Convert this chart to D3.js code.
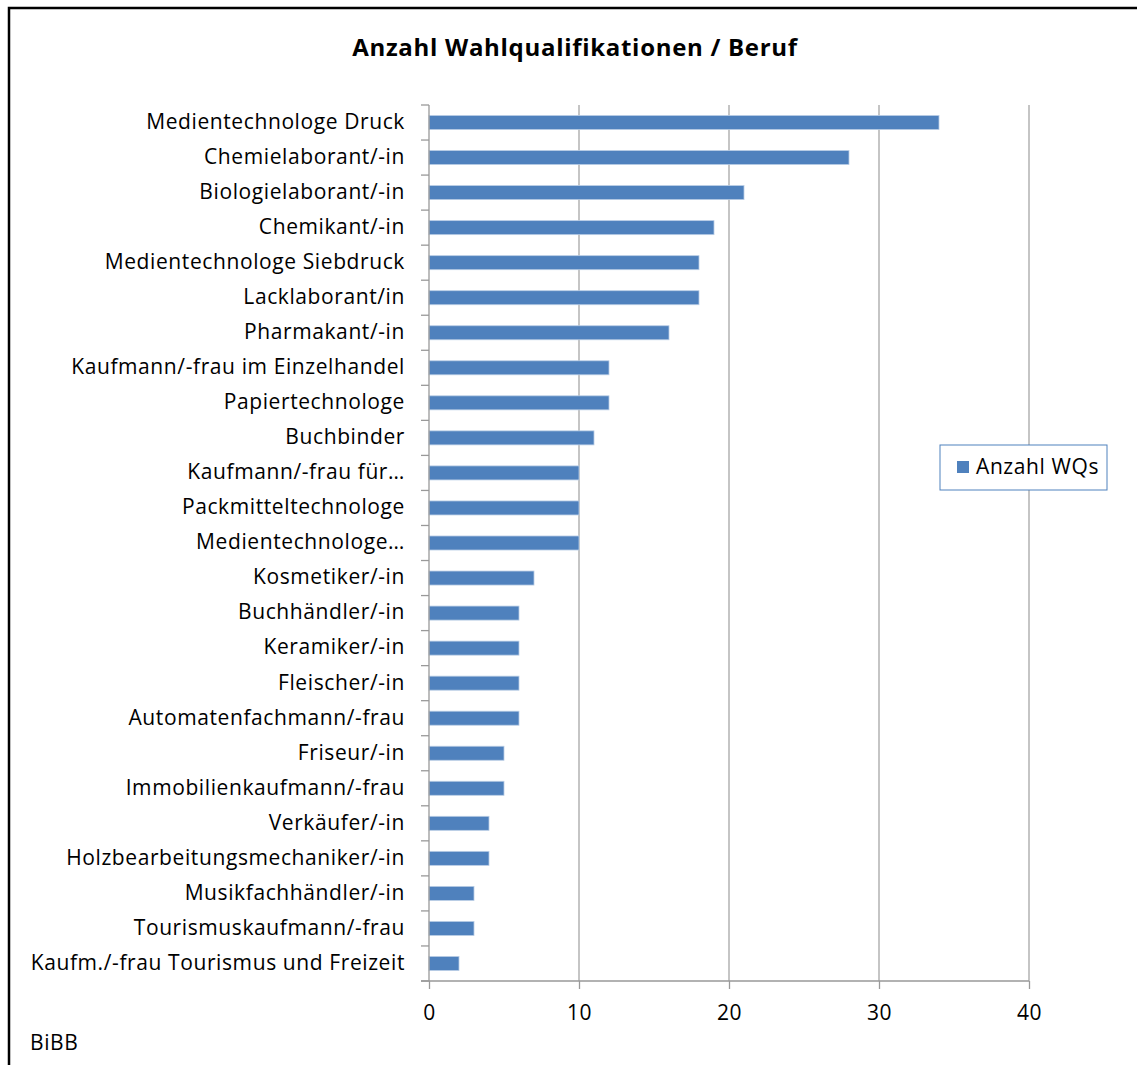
<!DOCTYPE html>
<html>
<head>
<meta charset="utf-8">
<script src="https://cdn.jsdelivr.net/npm/d3@7"></script>
<style>
  body { margin: 0; background: #fff; }
  svg text { font-family: "Open Sans", Lato, sans-serif; fill: #000; letter-spacing: 0.6px; }
</style>
</head>
<body>
<div id="chart"></div>
<script>
var categories = [
    "Medientechnologe Druck", "Chemielaborant/-in", "Biologielaborant/-in", "Chemikant/-in",
    "Medientechnologe Siebdruck", "Lacklaborant/in", "Pharmakant/-in",
    "Kaufmann/-frau im Einzelhandel", "Papiertechnologe", "Buchbinder",
    "Kaufmann/-frau für…", "Packmitteltechnologe", "Medientechnologe…",
    "Kosmetiker/-in", "Buchhändler/-in", "Keramiker/-in", "Fleischer/-in",
    "Automatenfachmann/-frau", "Friseur/-in", "Immobilienkaufmann/-frau",
    "Verkäufer/-in", "Holzbearbeitungsmechaniker/-in", "Musikfachhändler/-in",
    "Tourismuskaufmann/-frau", "Kaufm./-frau Tourismus und Freizeit"
];
var values = [34, 28, 21, 19, 18, 18, 16, 12, 12, 11, 10, 10, 10, 7, 6, 6, 6, 6, 5, 5, 4, 4, 3, 3, 2];
var xTicks = [0, 10, 20, 30, 40];
var seriesName = "Anzahl WQs";
var title = "Anzahl Wahlqualifikationen / Beruf";

var W = 1137, H = 1065;
var margin = {left: 429, right: 108, top: 105, bottom: 84};
var width = W - margin.left - margin.right,
    height = H - margin.top - margin.bottom;

var svg = d3.select("#chart").append("svg")
    .attr("width", W)
    .attr("height", H);

// outer frame
svg.append("rect")
    .attr("x", 9).attr("y", 8)
    .attr("width", W + 20).attr("height", H + 20)
    .attr("fill", "none")
    .attr("stroke", "#000")
    .attr("stroke-width", 2.5);

svg.append("text")
    .attr("x", 575).attr("y", 56)
    .attr("text-anchor", "middle")
    .style("font-size", "24px")
    .style("font-weight", "bold")
    .style("letter-spacing", "0.7px")
    .text(title);

var x = d3.scaleLinear().domain([0, 40]).range([0, width]);
var y = d3.scaleBand().domain(categories).range([0, height]).paddingInner(0.6).paddingOuter(0.3);

var chart = svg.append("g")
    .attr("transform", "translate(" + margin.left + "," + margin.top + ")");

// gridlines
chart.selectAll(".grid")
    .data(xTicks.slice(1))
    .enter().append("line")
    .attr("class", "grid")
    .attr("x1", function(d) { return x(d); })
    .attr("x2", function(d) { return x(d); })
    .attr("y1", 0).attr("y2", height)
    .attr("stroke", "#a6a6a6")
    .attr("stroke-width", 1.3);

// bars
chart.selectAll(".bar")
    .data(values)
    .enter().append("rect")
    .attr("class", "bar")
    .attr("x", x(0))
    .attr("y", function(d, i) { return y(categories[i]); })
    .attr("width", function(d) { return x(d) - x(0); })
    .attr("height", y.bandwidth())
    .attr("fill", "#4f81bd")
    .attr("stroke", "#b9cde5")
    .attr("stroke-width", 0.8);

// y axis: line + ticks between categories
var step = height / categories.length;
chart.append("line")
    .attr("x1", 0).attr("x2", 0).attr("y1", 0).attr("y2", height)
    .attr("stroke", "#999").attr("stroke-width", 1.3);
chart.selectAll(".ytick")
    .data(d3.range(categories.length + 1))
    .enter().append("line")
    .attr("x1", -8).attr("x2", 0)
    .attr("y1", function(d) { return d * step; })
    .attr("y2", function(d) { return d * step; })
    .attr("stroke", "#999").attr("stroke-width", 1.3);
chart.selectAll(".ylab")
    .data(categories)
    .enter().append("text")
    .attr("x", -24)
    .attr("y", function(d) { return y(d) + y.bandwidth() / 2 - 1; })
    .attr("dy", "0.35em")
    .attr("text-anchor", "end")
    .style("font-size", "21px")
    .text(function(d) { return d; });

// x axis
var xAxis = chart.append("g")
    .attr("transform", "translate(0," + height + ")")
    .call(d3.axisBottom(x).tickValues(xTicks).tickSize(8).tickPadding(16));
xAxis.select(".domain").attr("stroke", "#999").attr("stroke-width", 1.3)
    .attr("d", "M-8,0H" + width);
xAxis.selectAll(".tick line").attr("stroke", "#999").attr("stroke-width", 1.3);
xAxis.selectAll(".tick text")
    .style("font-size", "21px")
    .style("font-family", "'Open Sans', Lato, sans-serif")
    .attr("fill", "#000");

// legend
var lg = svg.append("g").attr("transform", "translate(940,445)");
lg.append("rect")
    .attr("width", 167).attr("height", 45)
    .attr("fill", "#fff")
    .attr("stroke", "#4f81bd")
    .attr("stroke-width", 1);
lg.append("rect")
    .attr("x", 17).attr("y", 16)
    .attr("width", 12).attr("height", 12)
    .attr("fill", "#4f81bd");
lg.append("text")
    .attr("x", 36).attr("y", 22)
    .attr("dy", "0.35em")
    .style("font-size", "21px")
    .text(seriesName);

svg.append("text")
    .attr("x", 30).attr("y", 1050)
    .style("font-size", "21px")
    .text("BiBB");
</script>
</body>
</html>
